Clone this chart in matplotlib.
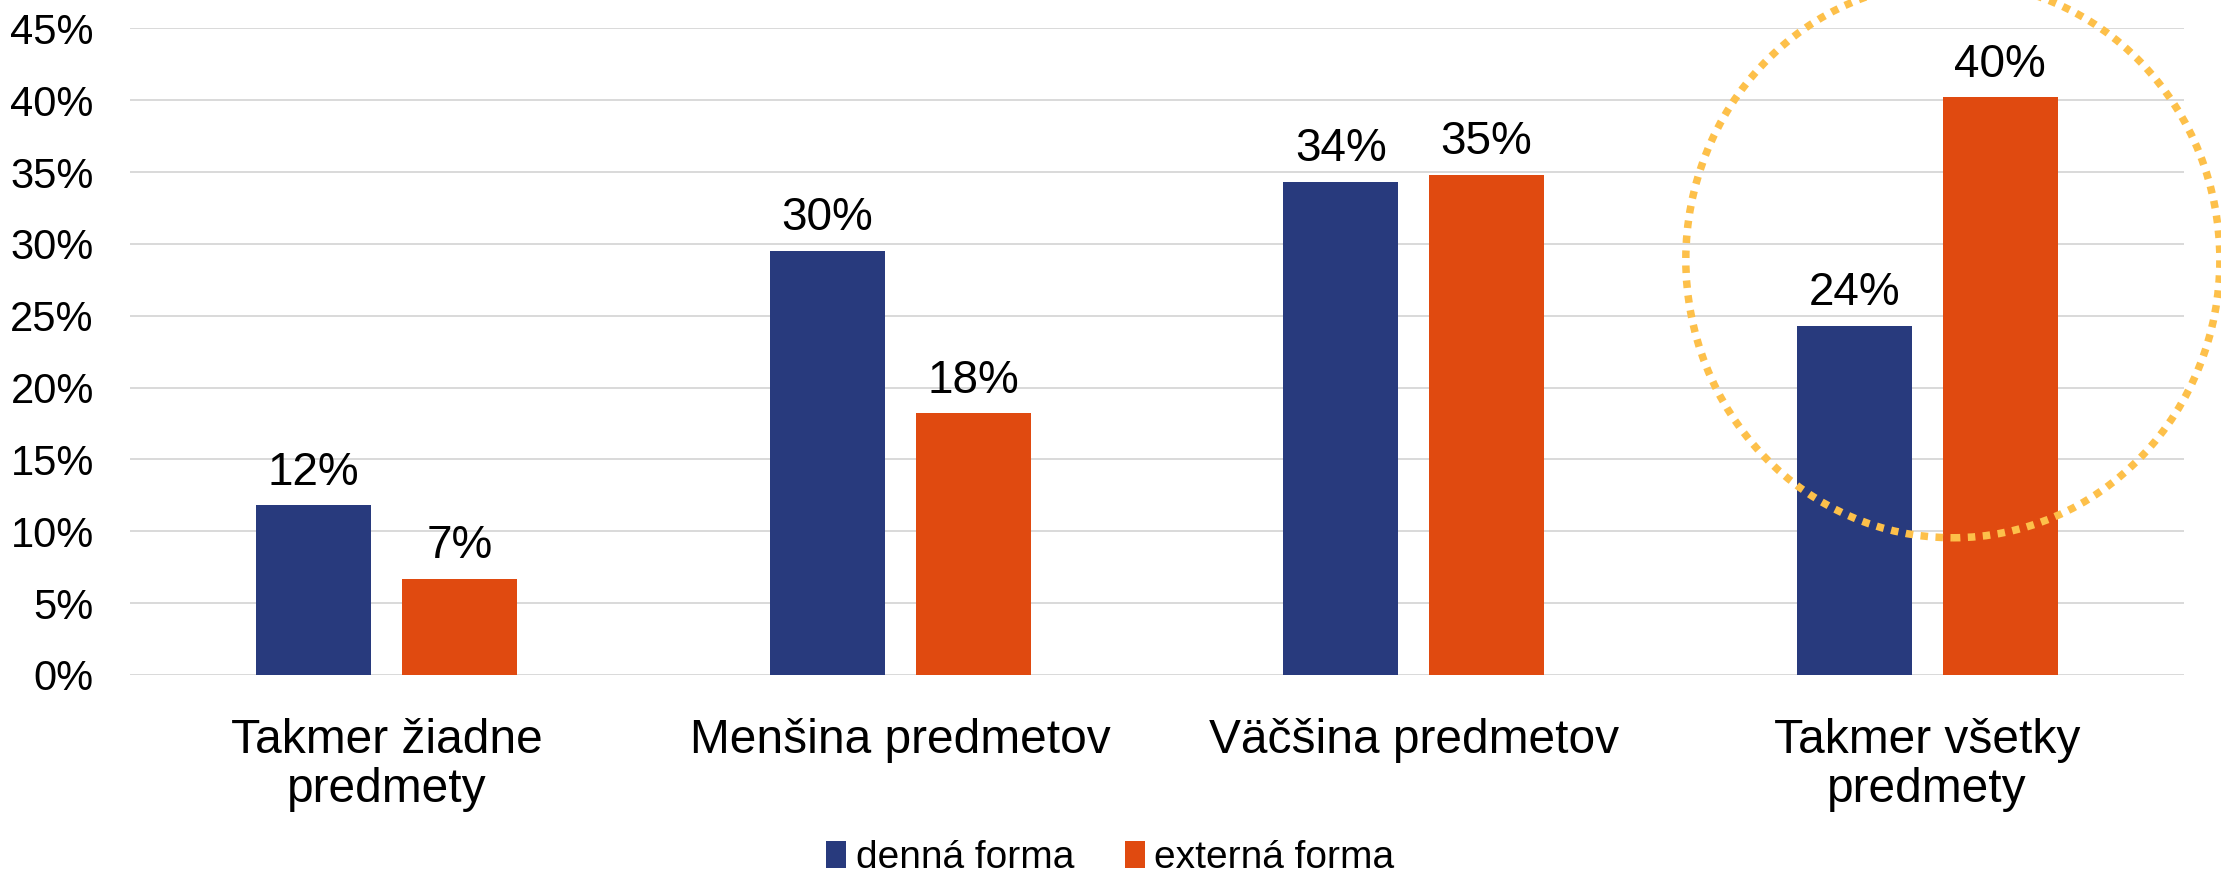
import numpy as np
import matplotlib
matplotlib.use("Agg")
import matplotlib.pyplot as plt
from matplotlib.patches import Ellipse

plt.rcParams["font.family"] = ["Liberation Sans", "DejaVu Sans"]

# data (percent)
categories = ["Takmer žiadne\npredmety", "Menšina predmetov",
              "Väčšina predmetov", "Takmer všetky\npredmety"]
denna = [11.8, 29.5, 34.3, 24.3]
externa = [6.7, 18.2, 34.8, 40.2]
series_names = ["denná forma", "externá forma"]
y_ticks = [0, 5, 10, 15, 20, 25, 30, 35, 40, 45]

C_DENNA = "#283A7D"
C_EXT = "#E04A10"
C_RING = "#FDC04A"
GRID = "#D9D9D9"

fig = plt.figure(figsize=(22.21, 8.76), dpi=100)
ax = fig.add_axes([0.0585, 0.2295, 0.9248, 0.738])

x = np.arange(len(categories))
w = 0.224
off = 0.142
b1 = ax.bar(x - off, denna, w, color=C_DENNA, label=series_names[0], zorder=3)
b2 = ax.bar(x + off, externa, w, color=C_EXT, label=series_names[1], zorder=3)

# value labels above bars
for bars, vals in ((b1, denna), (b2, externa)):
    for rect, v in zip(bars, vals):
        ax.annotate(f"{round(v)}%", xy=(rect.get_x() + rect.get_width() / 2, v),
                    xytext=(0, 15), textcoords="offset points",
                    ha="center", va="baseline", fontsize=33, color="black")

ax.set_xlim(-0.5, len(categories) - 0.5)
ax.set_ylim(0, 45)
ax.set_yticks(y_ticks)
ax.set_yticklabels([f"{t}%" for t in y_ticks])
ax.set_xticks(x)
ax.set_xticklabels(categories, fontsize=34.5, linespacing=1.1)
ax.tick_params(axis="y", length=0, pad=26, labelsize=30)
ax.tick_params(axis="x", length=0, pad=31)

ax.grid(axis="y", color=GRID, linewidth=1.4, zorder=0)
for s in ax.spines.values():
    s.set_visible(False)

# dotted highlight ring around the last category
ring = Ellipse((3.05, 28.9), 1.04, 38.7, fill=False, edgecolor=C_RING,
               linewidth=5.4, linestyle=(0, (1, 1)), clip_on=False, zorder=4)
ax.add_patch(ring)

fig.legend(loc="center", bbox_to_anchor=(0.5, 0.0205), ncol=2,
           frameon=False, fontsize=28, handlelength=0.51, handleheight=0.72,
           handletextpad=0.25, columnspacing=1.3)

fig.savefig("out.png", dpi=100)
